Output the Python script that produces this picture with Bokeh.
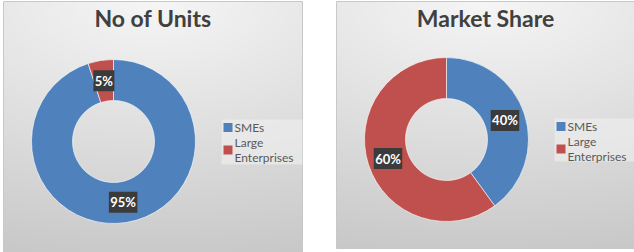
import numpy as np
from bokeh.plotting import figure
from bokeh.models import Range1d
from bokeh.core.properties import value
from bokeh.embed import file_html
from bokeh.resources import INLINE

# ---- data ----
categories = ["SMEs", "Large Enterprises"]
units_share = [95, 5]
market_share = [40, 60]
titles = ["No of Units", "Market Share"]
colors = ["#4f81bd", "#c0504d"]

W, H = 634, 252
p = figure(width=W, height=H, output_backend="svg", toolbar_location=None,
           x_range=Range1d(0, W), y_range=Range1d(0, H), min_border=0)
p.axis.visible = False
p.grid.visible = False
p.outline_line_color = None
p.background_fill_color = "white"
p.border_fill_color = "white"

def Y(y):
    return H - y

# panel geometry (pixels, top-left origin)
panels = [
    dict(x0=3, x1=302, y0=1, y1=252, cx=113, cy=141, lx=223, ly=123, bg=(221, 119, 302, 164)),
    dict(x0=336, x1=634, y0=1, y1=248, cx=446, cy=139, lx=556, ly=122, bg=(554, 118, 634, 161)),
]
R_OUT, R_IN = 82, 41

def gradient(w, h):
    yy, xx = np.mgrid[0:h, 0:w]
    # rows: 0 = bottom
    t = 1 - yy / (h - 1)  # 0 top .. 1 bottom
    dx = (xx - w / 2) / w
    d = np.sqrt((t * 1.0) ** 2 + (dx * 0.6) ** 2)
    v = np.clip(246 - 44 * d, 195, 246).astype(np.uint32)
    img = (255 << 24) | (v << 16) | (v << 8) | v
    return img.astype(np.uint32)

series = [units_share, market_share]
for i, pn in enumerate(panels):
    w = pn["x1"] - pn["x0"]
    h = pn["y1"] - pn["y0"]
    p.image_rgba(image=[gradient(w, h)], x=pn["x0"], y=Y(pn["y1"]), dw=w, dh=h)
    p.quad(left=pn["x0"], right=pn["x1"], bottom=Y(pn["y1"]), top=Y(pn["y0"]),
           fill_color=None, line_color="#c8c8c8", line_width=1)
    # title
    p.text(x=[(pn["x0"] + pn["x1"]) / 2], y=[Y(17)], text=[titles[i]],
           text_font=value("Lato"), text_font_style="bold", text_font_size="23px",
           text_color="#404040", text_align="center", text_baseline="middle")
    vals = np.array(series[i], dtype=float)
    frac = vals / vals.sum()
    c1 = np.cumsum(frac)
    c0 = c1 - frac
    start = np.pi / 2 - 2 * np.pi * c0
    end = np.pi / 2 - 2 * np.pi * c1
    p.annular_wedge(x=pn["cx"], y=Y(pn["cy"]), inner_radius=R_IN, outer_radius=R_OUT,
                    inner_radius_units="screen", outer_radius_units="screen",
                    start_angle=start, end_angle=end, direction="clock",
                    fill_color=colors, line_color="white", line_width=0.6)
    mid = np.pi / 2 - 2 * np.pi * (c0 + frac / 2)
    rm = (R_IN + R_OUT) / 2
    lxs = pn["cx"] + rm * np.cos(mid)
    lys = Y(pn["cy"]) + rm * np.sin(mid)
    labels = [f"{int(v)}%" for v in vals]
    bw = [10 + 7.5 * len(s) - 4 for s in labels]
    p.rect(x=lxs, y=lys, width=bw, height=21, fill_color="#3b3b3b", line_color=None)
    p.text(x=lxs, y=lys, text=labels, text_font=value("Lato"), text_font_style="bold",
           text_font_size="13px", text_color="white", text_align="center", text_baseline="middle")
    # legend
    bx0, by0, bx1, by1 = pn["bg"]
    p.quad(left=bx0, right=bx1, bottom=Y(by1), top=Y(by0), fill_color="#f0f0f0",
           fill_alpha=0.6, line_color=None)
    ly = pn["ly"] + 4
    for k, cat in enumerate(categories):
        lines = cat.split(" ")
        nl = len(lines)
        sq_y = ly + (nl - 1) * 7.5
        p.rect(x=[pn["lx"] + 4.5], y=[Y(sq_y)], width=9, height=9, fill_color=colors[k], line_color=None)
        p.text(x=[pn["lx"] + 11] * nl, y=[Y(ly + j * 15) for j in range(nl)], text=lines,
               text_font=value("Lato"), text_font_size="12px", text_color="#595959",
               text_align="left", text_baseline="middle")
        ly += 15 * nl

open("out.html", "w").write(file_html(p, INLINE))
